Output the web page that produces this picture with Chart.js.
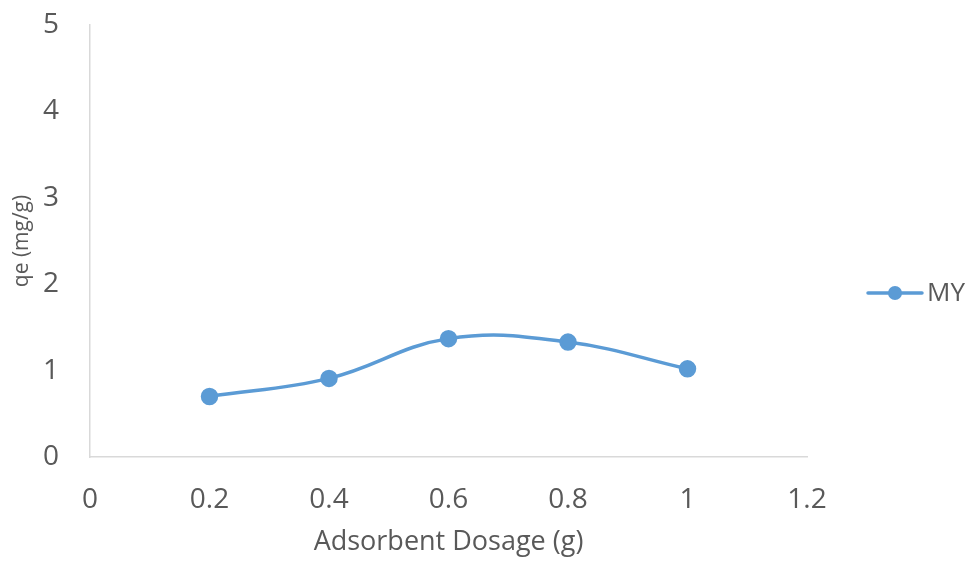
<!DOCTYPE html>
<html>
<head>
<meta charset="utf-8">
<script src="https://cdn.jsdelivr.net/npm/chart.js@4/dist/chart.umd.min.js"></script>
<style>
  html, body { margin: 0; padding: 0; background: #ffffff; }
  #wrap { width: 971px; height: 561px; position: relative; }
</style>
</head>
<body>
<div id="wrap"><canvas id="chart" width="971" height="561"></canvas></div>
<script>
// Adsorbent dosage (g) and adsorption capacity qe (mg/g)
const dosage = [0.2, 0.4, 0.6, 0.8, 1.0];
const qeMY = [0.70, 0.91, 1.37, 1.33, 1.02];
const seriesName = 'MY';
const xTicks = [0, 0.2, 0.4, 0.6, 0.8, 1, 1.2];
const yTicks = [0, 1, 2, 3, 4, 5];

const lineColor = '#5B9BD5';
const textColor = '#595959';
const axisColor = '#D9D9D9';
const fontFamily = '"Open Sans", sans-serif';

// Legend entry drawn on the right: line segment with a marker and the series name
const sideLegend = {
  id: 'sideLegend',
  afterDraw(chart) {
    const ctx = chart.ctx;
    const ds = chart.data.datasets[0];
    const y = 293;
    const x0 = 868, x1 = 922;
    ctx.save();
    ctx.strokeStyle = ds.borderColor;
    ctx.lineWidth = ds.borderWidth;
    ctx.lineCap = 'round';
    ctx.beginPath();
    ctx.moveTo(x0, y);
    ctx.lineTo(x1, y);
    ctx.stroke();
    ctx.fillStyle = ds.pointBackgroundColor;
    ctx.beginPath();
    ctx.arc((x0 + x1) / 2, y, ds.pointRadius, 0, Math.PI * 2);
    ctx.fill();
    ctx.fillStyle = textColor;
    ctx.font = '26px ' + fontFamily;
    ctx.textBaseline = 'middle';
    ctx.textAlign = 'left';
    ctx.fillText(ds.label, 927, y + 1);
    ctx.restore();
  }
};

new Chart(document.getElementById('chart'), {
  type: 'line',
  data: {
    datasets: [{
      label: seriesName,
      data: dosage.map((x, i) => ({ x: x, y: qeMY[i] })),
      borderColor: lineColor,
      backgroundColor: lineColor,
      pointBackgroundColor: lineColor,
      pointBorderColor: lineColor,
      borderWidth: 3.5,
      pointRadius: 7,
      tension: 0.4,
      fill: false
    }]
  },
  options: {
    responsive: false,
    animation: false,
    events: [],
    layout: { padding: { top: 25, right: 164, bottom: 2, left: 0 } },
    plugins: { legend: { display: false }, tooltip: { enabled: false } },
    scales: {
      x: {
        type: 'linear',
        min: xTicks[0],
        max: xTicks[xTicks.length - 1],
        afterBuildTicks: s => { s.ticks = xTicks.map(v => ({ value: v })); },
        afterFit: s => { s.height = 102; s.paddingLeft = 0; s.paddingRight = 0; },
        grid: { display: false, drawTicks: false },
        border: { display: true, color: axisColor, width: 1.5 },
        ticks: {
          color: textColor,
          font: { family: fontFamily, size: 28 },
          padding: 26,
          maxRotation: 0,
          callback: v => String(Math.round(v * 10) / 10)
        },
        title: {
          display: true,
          text: 'Adsorbent Dosage (g)',
          color: textColor,
          font: { family: fontFamily, size: 27 },
          padding: { top: 0, bottom: 0 }
        }
      },
      y: {
        min: yTicks[0],
        max: yTicks[yTicks.length - 1],
        afterBuildTicks: s => { s.ticks = yTicks.map(v => ({ value: v })); },
        afterFit: s => { s.width = 90; s.paddingTop = 0; s.paddingBottom = 0; },
        grid: { display: false, drawTicks: false },
        border: { display: true, color: axisColor, width: 1.5 },
        ticks: {
          color: textColor,
          font: { family: fontFamily, size: 28 },
          padding: 31
        },
        title: {
          display: true,
          text: 'qe (mg/g)',
          color: textColor,
          font: { family: fontFamily, size: 21 },
          padding: { top: 9, bottom: 0 }
        }
      }
    }
  },
  plugins: [sideLegend]
});
</script>
</body>
</html>
